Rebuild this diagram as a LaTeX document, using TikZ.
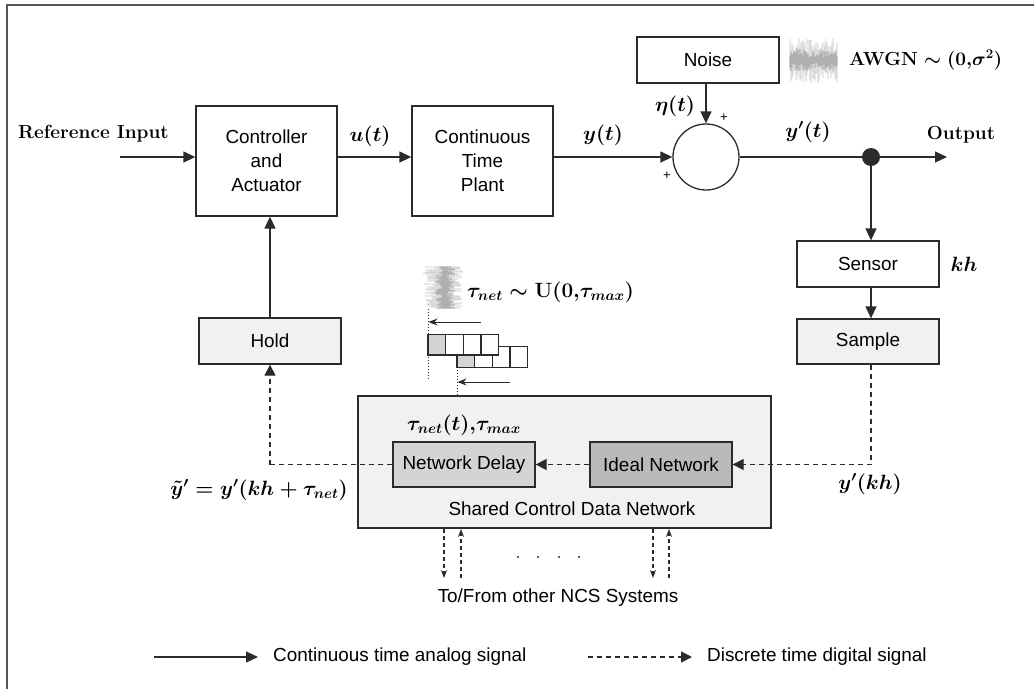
\RequirePackage{fix-cm}
\documentclass[tikz,border=0pt]{standalone}
\usepackage{fontspec}
\setsansfont{Liberation Sans}
\usetikzlibrary{arrows.meta,calc}
\definecolor{ln}{HTML}{2B2B2B}
\definecolor{lightfill}{HTML}{F0F1F3}
\definecolor{midfill}{HTML}{D3D4D6}
\definecolor{darkfill}{HTML}{B9BABC}
\begin{document}
\begin{tikzpicture}[x=1pt,y=-1pt,
  box/.style={draw=ln, line width=1.3pt, fill=white, inner sep=0pt, align=center,
    font=\sffamily\fontsize{18.9}{24}\selectfont},
  sans/.style={font=\sffamily\fontsize{18.9}{24}\selectfont, inner sep=0pt},
  mlbl/.style={font=\fontsize{20.7}{24}\selectfont\boldmath, inner sep=0pt},
  blbl/.style={font=\fontsize{19}{23}\selectfont\bfseries, inner sep=0pt},
  plus/.style={font=\sffamily\fontsize{13}{15}\selectfont, inner sep=0pt},
  sig/.style={draw=ln, line width=1.3pt},
  sarrow/.style={sig, -{Triangle[length=12pt,width=11pt]}},
  darrow/.style={draw=ln, line width=1.3pt, dash pattern=on 5pt off 4pt, -{Triangle[length=11pt,width=11pt]}},
  dline/.style={draw=ln, line width=1.3pt, dash pattern=on 5pt off 4pt},
  smalld/.style={draw=ln, line width=1.2pt, dash pattern=on 4pt off 3pt, -{Stealth[length=8pt,width=6pt]}},
  thinarrow/.style={draw=ln, line width=1pt, -{Stealth[length=9pt,width=7pt]}}
]
\useasboundingbox (0,0) rectangle (1034,689);
% frame
\draw[ln!80, line width=1.3pt] (7,689) -- (7,5) -- (1034,5);

% nodes
\node[box, minimum width=141pt, minimum height=110pt] (ctrl) at (266.5,161) {Controller\\and\\Actuator};
\node[box, minimum width=141pt, minimum height=110pt] (plant) at (482.5,161) {Continuous\\Time\\Plant};
\node[draw=ln, line width=1.3pt, circle, minimum size=66pt, inner sep=0pt, fill=white] (sum) at (706,157) {};
\node[box, minimum width=142pt, minimum height=46pt] (noise) at (708,60) {Noise};
\node[circle, fill=ln, minimum size=18pt, inner sep=0pt] (dot) at (871,157) {};
\coordinate (out) at (947,157);
\coordinate (refin) at (120,157);
\node[box, minimum width=142pt, minimum height=46pt] (sensor) at (868,264) {Sensor};
\node[box, fill=lightfill, minimum width=142pt, minimum height=45pt] (sample) at (868,341.5) {Sample};
\node[box, fill=lightfill, minimum width=142pt, minimum height=46pt] (hold) at (270,341) {Hold};
\node[draw=ln, line width=1.3pt, fill=lightfill, minimum width=413pt, minimum height=132pt, inner sep=0pt] (net) at (564.5,462) {};
\node[box, fill=midfill, minimum width=142pt, minimum height=45pt] (delay) at (464,464.5) {Network Delay};
\node[box, fill=darkfill, minimum width=142pt, minimum height=45pt] (ideal) at (661,464.5) {Ideal Network};

% continuous connectors
\draw[sarrow] (refin) -- (refin -| ctrl.west);
\draw[sarrow] (ctrl.east |- sum.center) -- (plant.west |- sum.center);
\draw[sarrow] (plant.east |- sum.center) -- (sum.west);
\draw[sarrow] (noise.south -| sum.center) -- (sum.north);
\draw[sig] (sum.east) -- (dot.center);
\draw[sarrow] (dot.center) -- (out);
\draw[sarrow] (dot.center) -- (dot.center |- sensor.north);
\draw[sarrow] (dot.center |- sensor.south) -- (dot.center |- sample.north);
\draw[sarrow] (hold.north) -- (hold.north |- ctrl.south);

% discrete connectors
\draw[darrow] (dot.center |- sample.south) -- (dot.center |- ideal.east) -- (ideal.east);
\draw[darrow] (ideal.west) -- (delay.east);
\draw[dline] (delay.west) -- (delay.west -| hold.south);
\draw[darrow] (delay.west -| hold.south) -- (hold.south);

% to/from other systems
\foreach \xd/\xu in {444/461, 653/669}{
  \draw[smalld] (\xd,529) -- (\xd,578);
  \draw[smalld] (\xu,578) -- (\xu,529);
}
\foreach \xx in {518,538,559,579}{ \fill[ln] (\xx,557) circle (1.1pt); }

% labels
\node[blbl] (lref) at (93.5,134) {Reference Input};
\node[mlbl] (lu) at (370,136) {$u(t)$};
\node[mlbl] (ly) at (603,135) {$y(t)$};
\node[mlbl] (leta) at (675,106) {$\eta(t)$};
\node[plus] (p1) at (724,118) {+};
\node[plus] (p2) at (667,176) {+};
\node[mlbl] (lyp) at (808,132) {$y'(t)$};
\node[blbl] (lout) at (961,135) {Output};
\node[mlbl, font=\fontsize{19}{23}\selectfont\boldmath, anchor=west] (lawgn) at (849,60) {$\mathbf{AWGN}\sim(0{,}\sigma^2)$};
\node[mlbl] (lkh) at (964,264) {$kh$};
\node[mlbl] (lykh) at (870,484) {$y'(kh)$};
\node[mlbl] (ltau) at (464,425) {$\tau_{net}(t){,}\tau_{max}$};
\node[sans] (lshared) at (572,509) {Shared Control Data Network};
\node[mlbl] (lyt) at (259,490) {$\tilde{y}'=y'(kh+\tau_{net})$};
\node[sans] (lto) at (558,598) {To/From other NCS Systems};
\node[mlbl, anchor=west] (ltaud) at (467,292) {$\tau_{net}\sim\mathrm{\mathbf{U}}(0{,}\tau_{max})$};

% noise blob (AWGN)
\pgfmathsetseed{7}
\foreach \i in {0,...,47}{
  \pgfmathsetmacro{\a}{8+15*rnd}
  \pgfmathsetmacro{\b}{8+15*rnd}
  \draw[gray!50, line width=1.2pt, opacity=0.35] (790+\i,60-\a) -- (790+\i,60+\b);
  \pgfmathsetmacro{\c}{3+8*rnd}
  \pgfmathsetmacro{\d}{3+8*rnd}
  \draw[gray!90, line width=1.2pt, opacity=0.35] (790+\i,60-\c) -- (790+\i,60+\d);
}
% delay blob
\foreach \i in {0,...,41}{
  \pgfmathsetmacro{\a}{6+14*rnd}
  \pgfmathsetmacro{\b}{6+14*rnd}
  \draw[gray!50, line width=1.2pt, opacity=0.35] (443-\a,267+\i) -- (443+\b,267+\i);
  \pgfmathsetmacro{\c}{2+8*rnd}
  \pgfmathsetmacro{\d}{2+8*rnd}
  \draw[gray!90, line width=1.2pt, opacity=0.35] (445-\c,267+\i) -- (445+\d,267+\i);
}

% packet stack
\foreach \k in {0,1,2,3}{
  \draw[ln, line width=1.1pt, fill=white] (457+17.67*\k,346.7) rectangle ++(17.67,20.6);
}
\fill[midfill] (457,346.7) rectangle ++(17.67,20.6);
\draw[ln, line width=1.1pt] (457,346.7) rectangle ++(17.67,20.6);
\foreach \k in {0,1,2,3}{
  \draw[ln, line width=1.1pt, fill=white] (428+17.67*\k,334.3) rectangle ++(17.67,20.7);
}
\fill[midfill] (428,334.3) rectangle ++(17.67,20.7);
\draw[ln, line width=1.1pt] (428,334.3) rectangle ++(17.67,20.7);
\draw[ln, line width=1pt, dotted] (428,309) -- (428,380);
\draw[ln, line width=1pt, dotted] (457,367) -- (457,396);
\draw[thinarrow] (481,322) -- (428.5,322);
\draw[thinarrow] (510,382) -- (457.5,382);

% legend
\coordinate (la1) at (154,657);
\coordinate (la2) at (258,657);
\draw[sarrow] (la1) -- (la2);
\node[sans, anchor=west] (lcont) at (273,657) {Continuous time analog signal};
\coordinate (lb1) at (588,657);
\coordinate (lb2) at (692,657);
\draw[darrow] (lb1) -- (lb2);
\node[sans, anchor=west] (ldisc) at (707,657) {Discrete time digital signal};
\end{tikzpicture}
\end{document}
